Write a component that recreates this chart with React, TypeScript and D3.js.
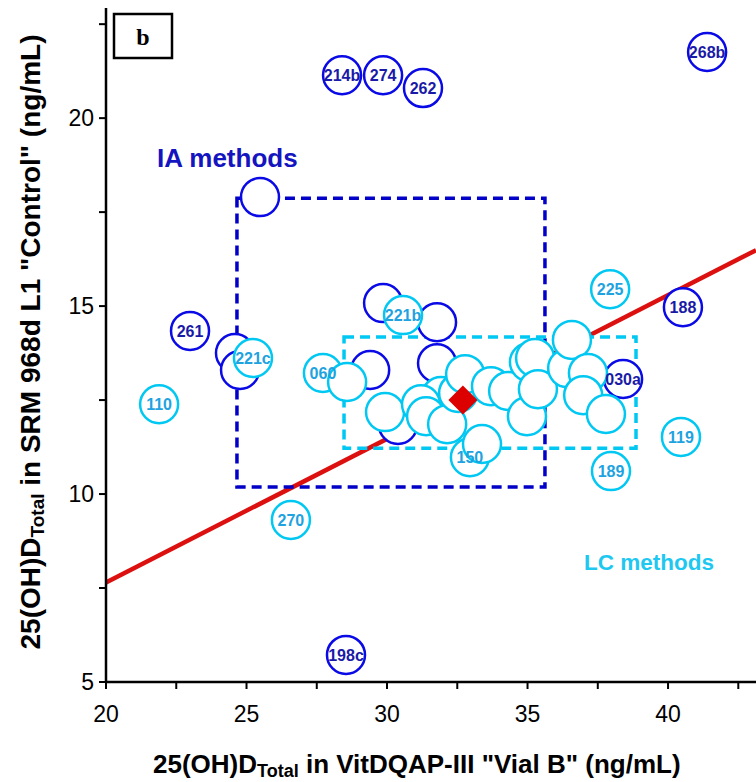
import React from 'react';
import * as d3 from 'd3';

// IA methods (dark blue), labelled points
const iaLabelled = [
  { id: '214b', x: 28.4, y: 21.14 },
  { id: '274', x: 29.86, y: 21.14 },
  { id: '262', x: 31.28, y: 20.8 },
  { id: '268b', x: 41.39, y: 21.76 },
  { id: '261', x: 22.99, y: 14.34 },
  { id: '188', x: 40.53, y: 14.97 },
  { id: '030a', x: 38.4, y: 13.06 },
  { id: '198c', x: 28.54, y: 5.72 },
];
// IA methods, unlabelled points
const iaOther = [
  [25.48, 17.9], [24.59, 13.75], [24.77, 13.3], [29.86, 15.08],
  [31.78, 14.57], [31.78, 13.48], [29.4, 13.3], [30.39, 11.84],
];
// LC methods (cyan), labelled points
const lcLabelled = [
  { id: '110', x: 21.89, y: 12.39 },
  { id: '221c', x: 25.23, y: 13.62 },
  { id: '060', x: 27.72, y: 13.22 },
  { id: '221b', x: 30.57, y: 14.76 },
  { id: '225', x: 37.94, y: 15.45 },
  { id: '119', x: 40.46, y: 11.52 },
  { id: '189', x: 37.97, y: 10.61 },
  { id: '270', x: 26.58, y: 9.31 },
  { id: '150', x: 32.95, y: 10.98 },
];
// LC methods, unlabelled points
const lcOther = [
  [28.58, 12.98], [29.93, 12.18], [31.92, 12.61], [31.21, 12.39], [31.39, 12.07],
  [32.14, 11.86], [32.53, 12.69], [32.78, 13.19], [33.7, 12.87], [34.31, 12.74],
  [33.38, 11.33], [34.98, 12.07], [35.05, 13.51], [35.27, 13.62], [35.37, 12.79],
  [36.41, 13.35], [36.58, 14.1], [37.15, 13.22], [36.98, 12.63], [37.79, 12.13],
];
// consensus point and regression line slope (through origin)
const consensus = { x: 32.7, y: 12.5 };
const slope = 0.3823;
// method boxes [x1, x2, yLow, yHigh]
const iaBox = [24.66, 35.62, 10.19, 17.87];
const lcBox = [28.47, 38.86, 11.22, 14.18];

const xTicks = [20, 25, 30, 35, 40];
const yTicks = [5, 10, 15, 20];

const DARK = '#0a0ae6';
const DARK_TXT = '#1a1aa8';
const CYAN = '#00c8f2';
const CYAN_TXT = '#1ea2e0';
const FONT = 'Liberation Sans, Arial, sans-serif';

export default function App() {
  const x = d3.scaleLinear().domain([20, 43.13]).range([106, 756]);
  const y = d3.scaleLinear().domain([5, 22.93]).range([682, 8]);
  const r = 19;
  const line = d3.line<number>().x((d) => x(d)).y((d) => y(d * slope));
  const minor = d3.range(20, 43.1, 2.5);
  const minorY = d3.range(5, 22.9, 2.5);
  const d = consensus;
  const dh = 14.5;
  const labels = [
    ...iaLabelled.map((p) => ({ ...p, c: DARK_TXT })),
    ...lcLabelled.map((p) => ({ ...p, c: CYAN_TXT })),
  ];

  return (
    <svg width={756} height={782} style={{ position: 'absolute', left: 0, top: 0, background: '#fff' }}>
      {/* regression line */}
      <path d={line([20, 43.13]) || ''} stroke="#dd1010" strokeWidth={4.5} fill="none" />
      {/* boxes */}
      <rect x={x(iaBox[0])} y={y(iaBox[3])} width={x(iaBox[1]) - x(iaBox[0])} height={y(iaBox[2]) - y(iaBox[3])}
        fill="none" stroke="#0000c8" strokeWidth={3.5} strokeDasharray="10,6" />
      <rect x={x(lcBox[0])} y={y(lcBox[3])} width={x(lcBox[1]) - x(lcBox[0])} height={y(lcBox[2]) - y(lcBox[3])}
        fill="none" stroke={CYAN} strokeWidth={3.5} strokeDasharray="10,6" />
      {/* IA circles */}
      {iaOther.map((p, i) => (
        <circle key={'io' + i} cx={x(p[0])} cy={y(p[1])} r={r} fill="#fff" stroke={DARK} strokeWidth={2.5} />
      ))}
      {iaLabelled.map((p) => (
        <circle key={p.id} cx={x(p.x)} cy={y(p.y)} r={r} fill="#fff" stroke={DARK} strokeWidth={2.5} />
      ))}
      {/* LC circles */}
      {lcLabelled.map((p) => (
        <circle key={p.id} cx={x(p.x)} cy={y(p.y)} r={r} fill="#fff" stroke={CYAN} strokeWidth={2.5} />
      ))}
      {lcOther.map((p, i) => (
        <circle key={'lo' + i} cx={x(p[0])} cy={y(p[1])} r={r} fill="#fff" stroke={CYAN} strokeWidth={2.5} />
      ))}
      {/* circle labels */}
      {labels.map((p) => (
        <text key={'t' + p.id} x={x(p.x)} y={y(p.y)} dy="0.36em" textAnchor="middle" fontFamily={FONT}
          fontWeight="bold" fontSize={16} fill={p.c}>{p.id}</text>
      ))}
      {/* consensus diamond */}
      <path d={`M${x(d.x)},${y(d.y) - dh}L${x(d.x) + dh},${y(d.y)}L${x(d.x)},${y(d.y) + dh}L${x(d.x) - dh},${y(d.y)}Z`}
        fill="#dd0000" />
      {/* annotations */}
      <text x={157} y={167} fontFamily={FONT} fontWeight="bold" fontSize={26} fill="#1414c0">IA methods</text>
      <text x={584} y={570} fontFamily={FONT} fontWeight="bold" fontSize={22.5} fill="#1ec8f0">LC methods</text>
      <rect x={114} y={14} width={58} height={44} fill="#fff" stroke="#000" strokeWidth={2.5} />
      <text x={143} y={45} textAnchor="middle" fontFamily="Liberation Serif, Times New Roman, serif" fontWeight="bold"
        fontSize={24}>b</text>
      {/* axes */}
      <line x1={106} x2={756} y1={682} y2={682} stroke="#000" strokeWidth={2.5} />
      <line x1={106} x2={106} y1={8} y2={683} stroke="#000" strokeWidth={2.5} />
      {minor.map((t) => (
        <line key={'xt' + t} x1={x(t)} x2={x(t)} y1={682} y2={689} stroke="#000" strokeWidth={2} />
      ))}
      {minorY.map((t) => (
        <line key={'yt' + t} x1={99} x2={106} y1={y(t)} y2={y(t)} stroke="#000" strokeWidth={2} />
      ))}
      {xTicks.map((t) => (
        <text key={'xl' + t} x={x(t)} y={722} textAnchor="middle" fontFamily={FONT} fontSize={23}>{t}</text>
      ))}
      {yTicks.map((t) => (
        <text key={'yl' + t} x={94} y={y(t)} dy="0.36em" textAnchor="end" fontFamily={FONT} fontSize={23}>{t}</text>
      ))}
      <text x={153} y={773} fontFamily={FONT} fontWeight="bold" fontSize={26}>
        25(OH)D<tspan fontSize={18} dy={4}>Total</tspan><tspan dy={-4}> in VitDQAP-III "Vial B" (ng/mL)</tspan>
      </text>
      <text transform="translate(40,342) rotate(-90)" textAnchor="middle" fontFamily={FONT} fontWeight="bold" fontSize={28}>
        25(OH)D<tspan fontSize={19} dy={4}>Total</tspan><tspan dy={-4}> in SRM 968d L1 "Control" (ng/mL)</tspan>
      </text>
    </svg>
  );
}
